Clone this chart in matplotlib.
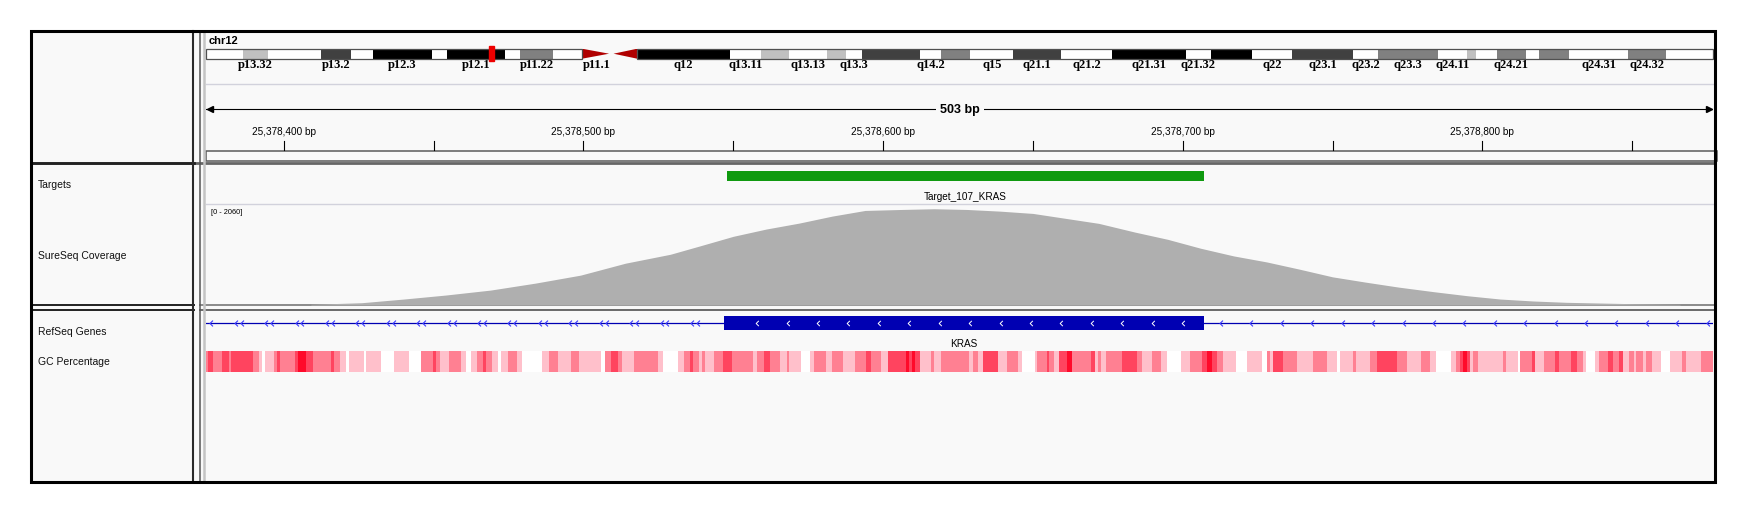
import numpy as np
import matplotlib
matplotlib.use("Agg")
import matplotlib.pyplot as plt
from matplotlib.patches import Rectangle, Polygon
from matplotlib.path import Path
from matplotlib.colors import LinearSegmentedColormap, Normalize

plt.rcParams["font.family"] = ["Liberation Sans", "DejaVu Sans"]

W, H = 1749, 514

# ------------------------------
# data
# ------------------------------
chrom = "chr12"
chrom_len = 133.85  # Mb
band_names = ["p13.33", "p13.32", "p13.31", "p13.2", "p13.1", "p12.3", "p12.2", "p12.1",
              "p11.23", "p11.22", "p11.21", "p11.1", "q11", "q12", "q13.11", "q13.12",
              "q13.13", "q13.2", "q13.3", "q14.1", "q14.2", "q14.3", "q15", "q21.1",
              "q21.2", "q21.31", "q21.32", "q21.33", "q22", "q23.1", "q23.2", "q23.3",
              "q24.11", "q24.12", "q24.13", "q24.21", "q24.22", "q24.23", "q24.31",
              "q24.32", "q24.33"]
band_start = [0, 3.3, 5.5, 10.2, 12.9, 14.8, 20.1, 21.4, 26.6, 27.9, 30.8, 33.4, 36.0,
              38.3, 46.5, 49.3, 51.8, 55.2, 56.8, 58.3, 63.4, 65.3, 67.9, 71.7, 75.9,
              80.5, 87.0, 89.3, 92.9, 96.5, 101.9, 104.1, 109.4, 112.0, 112.8, 114.7,
              117.2, 118.4, 121.1, 126.3, 129.7]
band_stain = ["gneg", "gpos25", "gneg", "gpos75", "gneg", "gpos100", "gneg", "gpos100",
              "gneg", "gpos50", "gneg", "acen", "acen", "gpos100", "gneg", "gpos25",
              "gneg", "gpos25", "gneg", "gpos75", "gneg", "gpos50", "gneg", "gpos75",
              "gneg", "gpos100", "gneg", "gpos100", "gneg", "gpos75", "gneg", "gpos50",
              "gneg", "gpos25", "gneg", "gpos50", "gneg", "gpos50", "gneg", "gpos50", "gneg"]
band_labels_shown = ["p13.32", "p13.2", "p12.3", "p12.1", "p11.22", "p11.1", "q12",
                     "q13.11", "q13.13", "q13.3", "q14.2", "q15", "q21.1", "q21.2",
                     "q21.31", "q21.32", "q22", "q23.1", "q23.2", "q23.3", "q24.11",
                     "q24.21", "q24.31", "q24.32"]
current_pos_mb = 25.38

view_start = 25378374
view_end = 25378877

target_start, target_end = 25378548, 25378707
target_name = "Target_107_KRAS"

cov_max = 2060
cov_pos = [25378409, 25378426, 25378440, 25378454, 25378469, 25378484, 25378499,
           25378514, 25378529, 25378539, 25378550, 25378561, 25378572, 25378583,
           25378594, 25378606, 25378617, 25378628, 25378639, 25378650, 25378661,
           25378672, 25378684, 25378695, 25378706, 25378717, 25378728, 25378739,
           25378750, 25378761, 25378772, 25378784, 25378795, 25378806, 25378817,
           25378828, 25378839, 25378850, 25378866]
cov_val = [14, 47, 122, 204, 306, 449, 612, 857, 1040, 1214, 1408, 1557, 1679, 1822,
           1938, 1958, 1973, 1958, 1924, 1877, 1775, 1673, 1495, 1346, 1163, 1006, 883,
           734, 577, 469, 367, 271, 190, 122, 82, 55, 41, 27, 14]

gene_name = "KRAS"
exon_start, exon_end = 25378547, 25378707

# GC windows: start offset (bp from view_start) and GC percentage
gc_offset = [0, 0.7, 2.4, 5.5, 7.8, 8.5, 15.8, 17.7, 18.6, 19.6, 22.6, 23.7, 24.8, 29.6,
             30.7, 33.5, 35.7, 41.8, 42.6, 44.6, 46.6, 47.7, 52.6, 53.5, 58.5, 62.6,
             67.7, 71.8, 75.9, 76.8, 78.1, 81.2, 85.1, 86.7, 88.4, 90.3, 92.5, 93.6,
             95.6, 97.6, 98.4, 100.9, 103.7, 105.6, 112.3, 114.5, 117.6, 121.7,
             124.5, 131.7, 133.3, 135.3, 137.6, 138.7, 142.8, 150.9, 152.7, 157.7,
             159.4, 161.4, 162.4, 164.4, 165.5, 166.4, 169.7, 172.7, 175.5, 182.7,
             184.0, 186.4, 188.2, 191.6, 193.8, 194.6, 198.6, 201.6, 203.0, 206.8,
             208.8, 212.6, 216.5, 220.4, 221.9, 225.4, 227.6, 233.7, 234.5, 235.6,
             236.5, 238.2, 242.0, 242.9, 245.4,
             254.8, 255.9, 257.6, 259.2, 264.2, 267.5, 270.9, 272.5, 276.6, 277.5,
             280.6, 281.4, 283.1, 284.7, 287.5, 289.2, 295.5, 296.6, 297.7, 298.6,
             300.3, 305.8, 310.8, 312.5, 315.8, 318.6, 320.6, 325.4, 328.5, 332.4,
             334.1, 335.8, 337.4, 339.6, 343.9, 347.4, 352.4, 354.1, 355.2, 356.3,
             359.6, 364.0, 369.6, 374.0,
             377.4, 378.5, 382.7, 383.8, 388.5, 390.7, 397.4, 400.7, 405.7, 408.5,
             410.7, 415.7, 417.3, 418.4, 419.6, 420.9, 422.0, 422.9, 424.5, 432.9,
             434.0, 437.9, 438.6, 442.6, 443.7, 446.7, 450.1, 451.5, 455.6, 457.5,
             459.5, 460.6, 463.7, 465.0, 467.8, 469.5, 471.7, 472.8, 474.8, 476.5,
             477.2, 479.5, 480.6, 482.6, 485.6, 488.7, 492.8, 493.9, 498.9]
gc_pct = [50, 75, 50, 75, 50, 75, 50, 25, 0, 25, 50, 75, 50, 75,
          100, 75, 50, 75, 50, 25, 0, 25, 0, 25, 0, 25,
          0, 50, 75, 50, 25, 50, 25, 0, 25, 50, 75, 50,
          25, 0, 25, 50, 25, 0, 25, 50, 25, 50,
          25, 0, 50, 75, 50, 25, 50, 25, 0, 25,
          50, 75, 50, 25, 50, 25, 50, 75, 50, 25,
          50, 75, 50, 25, 50, 25, 0, 25, 50, 25,
          50, 25, 50, 75, 50, 25, 75, 100, 75, 100,
          75, 25, 50, 25, 50,
          25, 50, 25, 75, 25, 50, 25, 0, 25, 50,
          75, 50, 25, 75, 100, 50, 75, 25, 50, 25,
          50, 75, 50, 25, 50, 25, 0, 25, 50, 75,
          100, 75, 50, 25, 0, 25, 0, 50, 25, 75,
          50, 25, 50, 25,
          0, 25, 50, 25, 50, 75, 50, 25, 50, 25,
          0, 25, 50, 75, 100, 75, 25, 50, 25, 50,
          25, 0, 50, 75, 25, 50, 75, 50, 75, 50,
          25, 0, 25, 50, 75, 50, 75, 25, 50, 25,
          50, 25, 50, 25, 0, 25, 50, 25, 50]

track_names = ["Targets", "SureSeq Coverage", "RefSeq Genes", "GC Percentage"]

# ------------------------------
# colours / layout
# ------------------------------
PANEL = "#f9f9f9"
stain_color = {"gneg": "#ffffff", "gpos25": "#c0c0c0", "gpos50": "#808080",
               "gpos75": "#404040", "gpos100": "#000000", "acen": "#b00000"}
DX0, DX1 = 206, 1713  # data panel in pixels

fig = plt.figure(figsize=(W / 100, H / 100), dpi=100)
fig.patch.set_facecolor("white")


def px_axes(x0, y0, x1, y1, z=1):
    ax = fig.add_axes([x0 / W, 1 - y1 / H, (x1 - x0) / W, (y1 - y0) / H], zorder=z)
    ax.set_axis_off()
    return ax


bg = px_axes(0, 0, W, H, z=0)
bg.set_xlim(0, W)
bg.set_ylim(H, 0)
bg.add_patch(Rectangle((31, 31), 1684, 451, fc=PANEL, ec="none"))

# light separators in header / data panel
bg.plot([DX0, DX1], [84, 84], color="#d2d2dc", lw=1.0)
bg.plot([DX0, DX1], [204.3, 204.3], color="#d2d2dc", lw=1.0)
# ruler bottom box
bg.add_patch(Rectangle((DX0, 150.7), DX1 - DX0 + 4, 10.3, fc=PANEL, ec="#5a5a5a", lw=1.1))

# panel dividers
bg.plot([31, 1715], [162.5, 162.5], color="#666666", lw=2.0)
bg.plot([31, 194], [162.5, 162.5], color="#222222", lw=2.0)
bg.plot([200, 1715], [305.3, 305.3], color="#8a8a8a", lw=1.4)
bg.plot([200, 1715], [310.0, 310.0], color="#6a6a6a", lw=1.4)
bg.plot([31, 194], [305.3, 305.3], color="#222222", lw=1.4)
bg.plot([31, 194], [310.3, 310.3], color="#222222", lw=1.4)

# vertical dividers between name panel and data panel
bg.plot([193.5, 193.5], [31, 482], color="#2a2a2a", lw=1.5)
bg.plot([199.8, 199.8], [31, 482], color="#555555", lw=1.1)
bg.plot([204.3, 204.3], [31, 482], color="#c4c4c4", lw=1.8)

# track names
name_y = [184.7, 256, 331.7, 362]
for nm, y in zip(track_names, name_y):
    bg.text(38, y, nm, fontsize=7.5, va="center", ha="left", color="#111111")

bg.text(209, 40.5, chrom, fontsize=8, fontweight="bold", va="center", ha="left")
bg.text(211, 213, f"[0 - {cov_max}]", fontsize=5.3, va="center", ha="left")

# ------------------------------
# ideogram
# ------------------------------
ax_id = px_axes(DX0, 48.7, DX1, 58.7, z=2)
ax_id.set_xlim(0, chrom_len)
ax_id.set_ylim(0, 1)
band_end = band_start[1:] + [chrom_len]
for nm, s, e, st in zip(band_names, band_start, band_end, band_stain):
    if st == "acen":
        if nm.startswith("p"):
            pts = [(s, 0), (s, 1), (e - 0.2, 0.5)]
        else:
            pts = [(s + 0.2, 0.5), (e, 1), (e, 0)]
        ax_id.add_patch(Polygon(pts, closed=True, fc=stain_color[st], ec="none"))
    else:
        ax_id.bar(s, 1, width=e - s, bottom=0, align="edge", color=stain_color[st], lw=0)
    if nm in band_labels_shown:
        ax_id.text((s + e) / 2, -0.58, nm, fontsize=9, fontweight="bold",
                   family="Liberation Serif", ha="center", va="center", clip_on=False)
p_end = band_start[band_names.index("p11.1")]
q_start = band_start[band_names.index("q12")]
ax_id.add_patch(Rectangle((0, 0), p_end, 1, fill=False, ec="#505050", lw=0.9, clip_on=False))
ax_id.add_patch(Rectangle((q_start, 0), chrom_len - q_start, 1, fill=False, ec="#505050",
                          lw=0.9, clip_on=False))
ax_id.add_patch(Rectangle((current_pos_mb - 0.22, -0.25), 0.44, 1.5, color="#ee0000",
                          clip_on=False, zorder=5))

# ------------------------------
# ruler
# ------------------------------
ax_r = px_axes(DX0, 84, DX1, 162, z=2)
ax_r.set_xlim(view_start, view_end)
ax_r.set_ylim(162, 84)
ax_r.plot([view_start, view_end], [109, 109], color="black", lw=0.8)
ax_r.plot([view_start + 1.2], [109], marker="<", ms=5, color="black", clip_on=False)
ax_r.plot([view_end - 1.2], [109], marker=">", ms=5, color="black", clip_on=False)
ax_r.text((view_start + view_end) / 2, 109.5, f"{view_end - view_start} bp", fontsize=9,
          fontweight="bold", ha="center", va="center",
          bbox=dict(fc=PANEL, ec="none", pad=3))
first_tick = int(np.ceil(view_start / 50.0) * 50)
for t in range(first_tick, view_end, 50):
    ax_r.plot([t, t], [141, 149.5], color="black", lw=0.8)
    if t % 100 == 0:
        ax_r.text(t, 132, f"{t:,} bp", fontsize=7.2, ha="center", va="center")

# ------------------------------
# targets
# ------------------------------
ax_t = px_axes(DX0, 164, DX1, 204, z=2)
ax_t.set_xlim(view_start, view_end)
ax_t.set_ylim(204, 164)
ax_t.broken_barh([(target_start, target_end - target_start)], (171, 10),
                 facecolors="#109a10")
ax_t.text((target_start + target_end) / 2, 197.5, target_name, fontsize=7.2, ha="center",
          va="center")

# ------------------------------
# coverage
# ------------------------------
ax_c = px_axes(DX0, 204.5, DX1, 305, z=2)
ax_c.set_xlim(view_start, view_end)
ax_c.set_ylim(0, cov_max)
ax_c.fill_between(cov_pos, cov_val, 0, color="#afafaf", lw=0)

# ------------------------------
# RefSeq gene
# ------------------------------
ax_g = px_axes(DX0, 311, DX1, 351, z=2)
ax_g.set_xlim(view_start, view_end)
ax_g.set_ylim(351, 311)
ax_g.plot([view_start, view_end], [322.6, 322.6], color="#a0a0ff", lw=0.7)
ax_g.plot([view_start, view_end], [323.4, 323.4], color="#0000b2", lw=0.9)
ax_g.broken_barh([(exon_start, exon_end - exon_start)], (315.7, 14), facecolors="#0000b2")

chev = Path([(0.5, 1), (-0.5, 0), (0.5, -1)], [Path.MOVETO, Path.LINETO, Path.LINETO])
step = 10.15
left_a = np.arange(view_start - 0.2, exon_start - 2, step)
left_b = left_a + 1.95
left = np.concatenate([left_a[left_a > view_start], left_b[left_b < exon_start - 1]])
right = np.arange(exon_end + 5.8, view_end, step)
ax_g.plot(left, np.full(len(left), 323.2), ls="none", marker=chev, ms=4.2, mfc="none",
          mec="#3c3cff", mew=0.8)
ax_g.plot(right, np.full(len(right), 323.2), ls="none", marker=chev, ms=4.2, mfc="none",
          mec="#3c3cff", mew=0.8)
inner = np.arange(exon_start + 11.0, exon_end - 2, step)
ax_g.plot(inner, np.full(len(inner), 322.7), ls="none", marker=chev, ms=3.8, mfc="none",
          mec="white", mew=0.7)
ax_g.text((exon_start + exon_end) / 2, 344, gene_name, fontsize=7.2, ha="center",
          va="center")

# ------------------------------
# GC percentage
# ------------------------------
ax_gc = px_axes(DX0, 351, DX1, 371.5, z=2)
ax_gc.set_xlim(view_start, view_end)
ax_gc.set_ylim(0, 1)
gc_cmap = LinearSegmentedColormap.from_list(
    "gc", ["#ffffff", "#ffc0cb", "#ff8092", "#ff4560", "#ff0a2a"])
gc_norm = Normalize(0, 100)
edges = np.append(gc_offset, view_end - view_start)
ax_gc.bar(view_start + np.array(gc_offset), 1, width=np.diff(edges), bottom=0,
          align="edge", color=gc_cmap(gc_norm(np.array(gc_pct))), lw=0)

# ------------------------------
# outer frame
# ------------------------------
top = px_axes(0, 0, W, H, z=20)
top.set_xlim(0, W)
top.set_ylim(H, 0)
top.add_patch(Rectangle((31, 31), 1684, 451, fill=False, ec="black", lw=2.2))

fig.savefig("out.png", dpi=100, facecolor="white")
